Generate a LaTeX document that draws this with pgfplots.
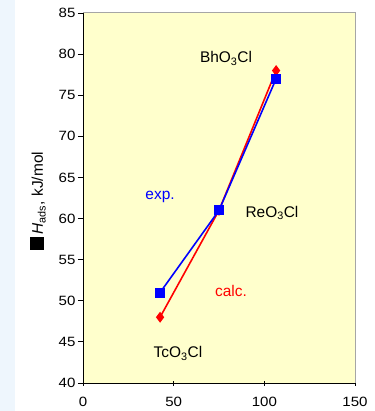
\documentclass[border=0pt]{standalone}
\usepackage{pgfplots}
\pgfplotsset{compat=1.18}
\usepackage{fontspec}
\setmainfont{Liberation Sans}
\newfontfamily\tickfont[FakeStretch=1.12]{Liberation Sans}
\definecolor{plotbg}{HTML}{FFFFCC}
\definecolor{sidebg}{HTML}{EEF6FD}
\definecolor{myblue}{HTML}{0000FF}
\definecolor{myred}{HTML}{FF0000}
\begin{document}
\begin{tikzpicture}[x=1bp,y=1bp]
\useasboundingbox (0,0) rectangle (375,411);
\fill[white] (0,0) rectangle (375,411);
\fill[sidebg] (0,0) rectangle (15,411);
\begin{axis}[
  at={(83bp,28bp)}, anchor=south west,
  scale only axis, width=272bp, height=370bp,
  xmin=0, xmax=150, ymin=40, ymax=85,
  xtick={0,50,100,150}, ytick={40,45,...,85},
  axis background/.style={fill=plotbg},
  axis x line*=bottom, axis y line*=left,
  x axis line style={-, black, line width=0.8pt},
  y axis line style={-, black, line width=0.8pt},
  tick style={black, line width=0.8pt},
  xtick align=center, ytick align=outside,
  major tick length=5bp,
  tick label style={font=\tickfont\fontsize{13.5}{14}\selectfont},
  /pgf/number format/assume math mode=true,
  xticklabel style={yshift=-8bp},
  yticklabel style={xshift=1bp},
  clip=false,
]
\draw[gray!70, line width=1pt] (axis cs:0,85) -- (axis cs:150,85) -- (axis cs:150,40);
\addplot[myred, line width=1.6pt, mark=diamond*, mark size=4.2bp, mark options={fill=myred}] coordinates {(42.5,48) (75,61) (106.5,78)};
\addplot[myblue, line width=1.6pt, mark=square*, mark size=4.2bp, mark options={fill=myblue}] coordinates {(42.5,51) (75,61) (106.5,77)};
\node[font=\fontsize{15.5}{16}\selectfont] at (axis cs:78.9,79.5) {BhO\textsubscript{3}Cl};
\node[font=\fontsize{15.5}{16}\selectfont, text=myblue] at (axis cs:42.5,62.6) {exp.};
\node[font=\fontsize{15.5}{16}\selectfont] at (axis cs:104.2,60.7) {ReO\textsubscript{3}Cl};
\node[font=\fontsize{15.5}{16}\selectfont, text=myred] at (axis cs:81.6,51.2) {calc.};
\node[font=\fontsize{15.5}{16}\selectfont] at (axis cs:52.4,43.6) {TcO\textsubscript{3}Cl};
\end{axis}
\node[rotate=90, anchor=west, inner sep=0pt, font=\fontsize{15.5}{16}\selectfont] at (38,161) {\rule[-1.5bp]{13bp}{14bp}\,\textit{H}\textsubscript{ads}, kJ/mol};
\end{tikzpicture}
\end{document}
